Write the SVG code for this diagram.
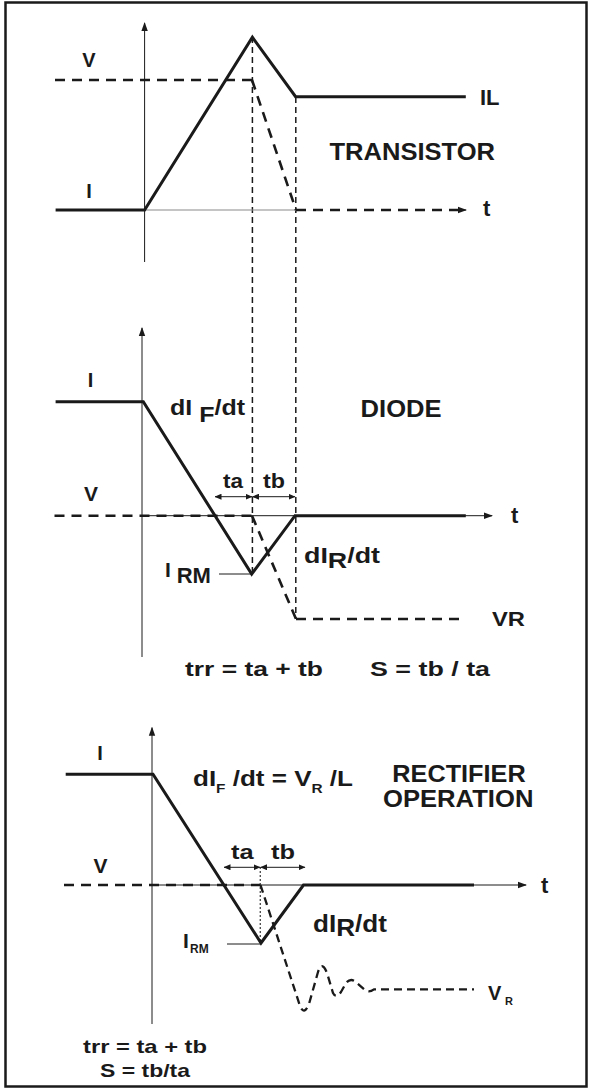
<svg xmlns="http://www.w3.org/2000/svg" width="589" height="1092" viewBox="0 0 589 1092">
<style>
  text { font-family: "Liberation Sans", Arial, Helvetica, sans-serif; font-weight: bold; fill: #1a1a1a; }
  .thick { stroke: #1a1a1a; stroke-width: 3; fill: none; stroke-linejoin: miter; }
  .thin { stroke: #1a1a1a; stroke-width: 1; fill: none; }
  .grey { stroke: #8a8a8a; stroke-width: 1.2; fill: none; }
  .dash { stroke: #1a1a1a; stroke-width: 2.6; fill: none; stroke-dasharray: 10 7; }
  .vdash { stroke: #1a1a1a; stroke-width: 1.5; fill: none; stroke-dasharray: 6 4; }
  .dot { stroke: #1a1a1a; stroke-width: 1.4; fill: none; stroke-dasharray: 1.5 2.5; }
  .ring { stroke: #1a1a1a; stroke-width: 2.3; fill: none; stroke-dasharray: 8 5; }
  .axis { stroke: #1a1a1a; stroke-width: 1; fill: none; marker-end: url(#ah); }
  .dim { stroke: #1a1a1a; stroke-width: 1; fill: none; marker-start: url(#sa); marker-end: url(#sa); }
</style>
<defs>
  <marker id="ah" markerWidth="9" markerHeight="8" refX="8" refY="4" orient="auto" markerUnits="userSpaceOnUse">
    <path d="M0,0.8 L9,4 L0,7.2 Z" fill="#1a1a1a"/>
  </marker>
  <marker id="sa" markerWidth="7" markerHeight="6" refX="6.5" refY="3" orient="auto-start-reverse" markerUnits="userSpaceOnUse">
    <path d="M0,0 L7,3 L0,6 Z" fill="#1a1a1a"/>
  </marker>
</defs>

<rect x="5.5" y="2.5" width="581" height="1084" fill="#fff" stroke="#1a1a1a" stroke-width="2.5"/>

<g id="connectors">
  <line class="vdash" x1="252.4" y1="37" x2="252.4" y2="574"/>
  <line class="vdash" x1="295.8" y1="97" x2="295.8" y2="619"/>
</g>

<g id="transistor">
  <line class="axis" x1="144.6" y1="262" x2="144.6" y2="23"/>
  <line class="grey" x1="144.6" y1="210" x2="296" y2="210"/>
  <line class="thin" x1="455" y1="210" x2="466" y2="210" marker-end="url(#ah)"/>
  <line class="dash" x1="296" y1="210" x2="458" y2="210"/>
  <polyline class="thick" points="55.6,210 144.6,210 252.4,37.3 295.6,96.7 465.8,96.7"/>
  <line class="dash" x1="55" y1="80" x2="252" y2="80"/>
  <line class="dash" x1="252" y1="80" x2="296" y2="210"/>
  <text x="89" y="67" font-size="20" text-anchor="middle">V</text>
  <text x="89" y="198" font-size="20" text-anchor="middle">I</text>
  <text x="480" y="105" font-size="22">IL</text>
  <text x="329.5" y="160" font-size="23" textLength="165.5" lengthAdjust="spacingAndGlyphs">TRANSISTOR</text>
  <text x="483" y="216" font-size="22">t</text>
</g>

<g id="diode">
  <line class="axis" x1="142" y1="657" x2="142" y2="328"/>
  <line class="axis" x1="142" y1="515.7" x2="492" y2="515.7"/>
  <polyline class="thick" points="55.6,401.7 143.3,401.7 251.7,574 295,515.7 465.8,515.7"/>
  <line class="dash" x1="54.5" y1="515.7" x2="252" y2="515.7"/>
  <line class="dash" x1="252" y1="515.7" x2="296" y2="619"/>
  <line class="dash" x1="296" y1="619" x2="462" y2="619"/>
  <line class="thin" x1="219" y1="574" x2="251.7" y2="574"/>
  <line class="dim" x1="215" y1="496.7" x2="252" y2="496.7"/>
  <line class="dim" x1="252.5" y1="496.7" x2="295" y2="496.7"/>
  <text x="90.5" y="387" font-size="20" text-anchor="middle">I</text>
  <text x="170" y="415" font-size="22" textLength="75" lengthAdjust="spacingAndGlyphs">dI <tspan dy="7">F</tspan><tspan dy="-7">/dt</tspan></text>
  <text x="360.6" y="417" font-size="23" textLength="81" lengthAdjust="spacingAndGlyphs">DIODE</text>
  <text x="91" y="501" font-size="21" text-anchor="middle">V</text>
  <text x="223" y="488" font-size="20" textLength="20" lengthAdjust="spacingAndGlyphs">ta</text>
  <text x="263" y="488" font-size="20" textLength="22" lengthAdjust="spacingAndGlyphs">tb</text>
  <text x="511" y="523" font-size="22">t</text>
  <text x="165" y="577" font-size="21">I<tspan x="176.7" y="583" font-size="22">RM</tspan></text>
  <text x="304" y="562.7" font-size="22" textLength="76" lengthAdjust="spacingAndGlyphs">dI<tspan dy="5.5">R</tspan><tspan dy="-5.5">/dt</tspan></text>
  <text x="492" y="626" font-size="21" textLength="33" lengthAdjust="spacingAndGlyphs">VR</text>
  <text x="185" y="676" font-size="20" textLength="138" lengthAdjust="spacingAndGlyphs">trr = ta + tb</text>
  <text x="370" y="676" font-size="20" textLength="120" lengthAdjust="spacingAndGlyphs">S = tb / ta</text>
</g>

<g id="rectifier">
  <line class="axis" x1="152" y1="1024" x2="152" y2="727.7"/>
  <line class="axis" x1="152" y1="885" x2="526" y2="885"/>
  <polyline class="thick" points="65.7,774.3 153,774.3 261,943 303.5,885 474,885"/>
  <line class="dash" x1="64" y1="885" x2="260" y2="885"/>
  <line class="dot" x1="260.3" y1="867.3" x2="260.3" y2="943"/>
  <path class="ring" d="M260.5,885 L300,1006 Q304,1016 309,1004 L318,972 Q322,960 327,973 L333,993 Q336,999 341,992 L346,983 Q351,977 357,983 L365,990 Q369,993 374,989.3 L474,989.3"/>
  <line class="thin" x1="227" y1="944" x2="261" y2="944"/>
  <line class="dim" x1="224" y1="867.3" x2="260" y2="867.3"/>
  <line class="dim" x1="260.6" y1="867.3" x2="305" y2="867.3"/>
  <text x="100" y="760" font-size="20" text-anchor="middle">I</text>
  <text x="193" y="786" font-size="22" textLength="160" lengthAdjust="spacingAndGlyphs">dI<tspan dy="7" font-size="13">F</tspan><tspan dy="-7"> /dt = V</tspan><tspan dy="7" font-size="13">R</tspan><tspan dy="-7"> /L</tspan></text>
  <text x="459" y="782" font-size="23" text-anchor="middle" textLength="133.4" lengthAdjust="spacingAndGlyphs">RECTIFIER</text>
  <text x="458.2" y="807" font-size="23" text-anchor="middle" textLength="150.4" lengthAdjust="spacingAndGlyphs">OPERATION</text>
  <text x="100.5" y="873" font-size="21" text-anchor="middle">V</text>
  <text x="231" y="859" font-size="20" textLength="22.6" lengthAdjust="spacingAndGlyphs">ta</text>
  <text x="271" y="859" font-size="20" textLength="24" lengthAdjust="spacingAndGlyphs">tb</text>
  <text x="541" y="892.7" font-size="22">t</text>
  <text x="183" y="948" font-size="21">I<tspan x="190" y="953" font-size="12">RM</tspan></text>
  <text x="313" y="931.7" font-size="23" textLength="74" lengthAdjust="spacingAndGlyphs">dI<tspan dy="4">R</tspan><tspan dy="-4">/dt</tspan></text>
  <text x="488" y="1000" font-size="20">V<tspan x="505" y="1005" font-size="11">R</tspan></text>
  <text x="83" y="1053" font-size="19" textLength="124" lengthAdjust="spacingAndGlyphs">trr = ta + tb</text>
  <text x="100" y="1077" font-size="19" textLength="90" lengthAdjust="spacingAndGlyphs">S = tb/ta</text>
</g>
</svg>
